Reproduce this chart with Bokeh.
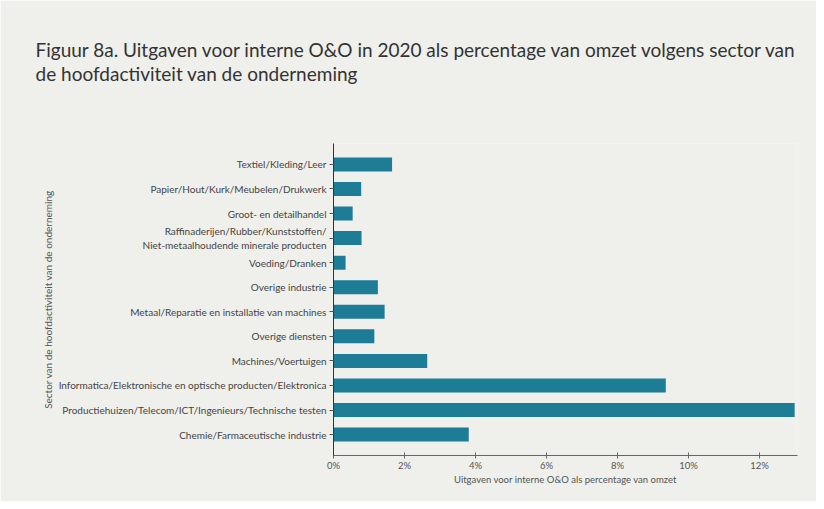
from bokeh.plotting import figure
from bokeh.models import FactorRange, Range1d, FixedTicker, PrintfTickFormatter, Title, ColumnDataSource
from bokeh.embed import file_html
from bokeh.resources import INLINE

title_lines = [
    "Figuur 8a. Uitgaven voor interne O&O in 2020 als percentage van omzet volgens sector van",
    "de hoofdactiviteit van de onderneming",
]
sectors = [
    "Textiel/Kleding/Leer",
    "Papier/Hout/Kurk/Meubelen/Drukwerk",
    "Groot- en detailhandel",
    "Raffinaderijen/Rubber/Kunststoffen/\nNiet-metaalhoudende minerale producten",
    "Voeding/Dranken",
    "Overige industrie",
    "Metaal/Reparatie en installatie van machines",
    "Overige diensten",
    "Machines/Voertuigen",
    "Informatica/Elektronische en optische producten/Elektronica",
    "Productiehuizen/Telecom/ICT/Ingenieurs/Technische testen",
    "Chemie/Farmaceutische industrie",
]
values = [1.65, 0.78, 0.54, 0.79, 0.34, 1.25, 1.44, 1.15, 2.64, 9.36, 12.99, 3.81]
x_ticks = [0, 2, 4, 6, 8, 10, 12]
x_label = "Uitgaven voor interne O&O als percentage van omzet"
y_label = "Sector van de hoofdactiviteit van de onderneming"

BG = "#efefeb"
BAR = "#1d7d97"
FONT = "Lato"

W, H = 816, 501
n = len(sectors)
p = figure(
    width=W, height=H,
    y_range=FactorRange(factors=list(reversed(sectors)), range_padding=0.7 / n),
    x_range=Range1d(0, 13.07),
    output_backend="svg", toolbar_location=None,
    min_border_left=333, min_border_right=19, min_border_top=143, min_border_bottom=46,
    background_fill_color=BG, border_fill_color=BG,
)
p.outline_line_color = None
p.xgrid.grid_line_color = None
p.ygrid.grid_line_color = None

src = ColumnDataSource(dict(sector=sectors, value=values))
p.hbar(y="sector", right="value", left=0, height=0.57, source=src, color=BAR, line_color=None)

# x axis
p.xaxis.ticker = FixedTicker(ticks=x_ticks)
p.xaxis.formatter = PrintfTickFormatter(format="%d%%")
p.xaxis.axis_label = x_label
p.xaxis.axis_label_text_font = FONT
p.xaxis.axis_label_text_font_size = "9.5px"
p.xaxis.axis_label_text_font_style = "normal"
p.xaxis.axis_label_text_color = "#555555"
p.xaxis.axis_label_standoff = 0
p.xaxis.major_label_text_font = FONT
p.xaxis.major_label_text_font_size = "9.5px"
p.xaxis.major_label_text_color = "#555555"
p.xaxis.major_label_standoff = 1
p.xaxis.axis_line_color = "#666666"
p.xaxis.major_tick_line_color = "#666666"
p.xaxis.major_tick_in = 3
p.xaxis.major_tick_out = 3
p.xaxis.minor_tick_line_color = None

# y axis
p.yaxis.axis_label = y_label
p.yaxis.axis_label_text_font = FONT
p.yaxis.axis_label_text_font_size = "10px"
p.yaxis.axis_label_text_font_style = "normal"
p.yaxis.axis_label_text_color = "#555555"
p.yaxis.axis_label_standoff = 2
p.yaxis.major_label_text_font = FONT
p.yaxis.major_label_text_font_size = "10px"
p.yaxis.major_label_text_color = "#444444"
p.yaxis.major_label_standoff = 3
p.yaxis.axis_line_color = "#333333"
p.yaxis.major_tick_line_color = "#555555"
p.yaxis.major_tick_in = 0
p.yaxis.major_tick_out = 4

# spacer closest to the frame, then the two-line title above it
p.add_layout(Title(text=" ", text_font_size="10px", standoff=45,
                   text_color=BG), "above")
p.add_layout(Title(text="\n".join(title_lines), align="left", offset=-298, standoff=0,
                   text_font=FONT, text_font_size="19px", text_font_style="normal",
                   text_line_height=1.08, text_color="#333333"), "above")

open("out.html", "w").write(file_html(p, INLINE))
